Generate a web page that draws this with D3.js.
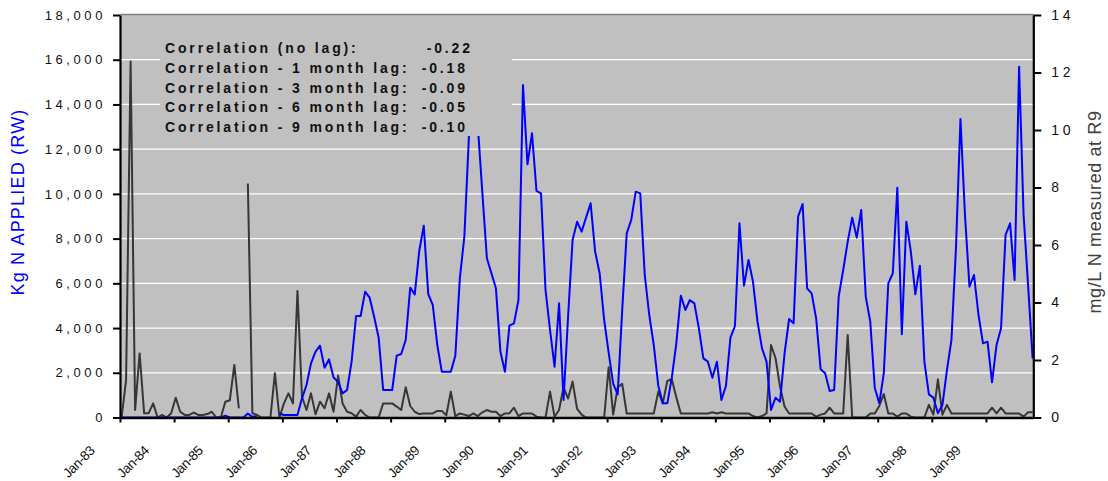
<!DOCTYPE html>
<html>
<head>
<meta charset="utf-8">
<script src="https://cdn.jsdelivr.net/npm/d3@7"></script>
<style>
  body { margin: 0; background: #fff; }
  svg { font-family: "Liberation Sans", Arial, sans-serif; }
</style>
</head>
<body>
<svg id="chart"></svg>
<script>
// monthly series, Jan-83 .. Nov-99 (one row per year)
const yearLabels = ['Jan-83', 'Jan-84', 'Jan-85', 'Jan-86', 'Jan-87', 'Jan-88', 'Jan-89', 'Jan-90',
  'Jan-91', 'Jan-92', 'Jan-93', 'Jan-94', 'Jan-95', 'Jan-96', 'Jan-97', 'Jan-98', 'Jan-99'];

// Kg N applied (RW) - left axis
const applied = [
  0, 0, 0, 0, 0, 0, 0, 0, 0, 0, 0, 0,
  0, 0, 0, 0, 0, 0, 0, 0, 0, 0, 0, 80,
  0, 0, 0, 0, 180, 30, 60, null, null, null, null, 180,
  110, 110, 110, 110, 857, 1453, 2422, 2944, 3212, 2229, 2601, 1789,
  1602, 1081, 1230, 2500, 4539, 4539, 5627, 5359, 4509, 3570, 1230, 1230,
  1230, 2765, 2840, 3466, 5806, 5508, 7446, 8580, 5520, 5031, 3242, 2050,
  2050, 2050, 2765, 6224, 8087, 12500, 16000, 13000, 10025, 7118, 6448, 5777,
  2944, 2050, 4107, 4211, 5255, 14870, 11322, 12709, 10130, 10025, 5702, 3913,
  2273, 5106, 783, 4509, 7938, 8758, 8310, 8950, 9578, 7416, 6448, 4360,
  2900, 1500, 1036, 4800, 8235, 8832, 10100, 10025, 6373, 4584, 3242, 1424,
  634, 634, 1781, 3317, 5449, 4807, 5255, 5106, 3988, 2646, 2497, 1781,
  2497, 783, 1407, 3570, 4092, 8683, 5896, 7043, 6075, 4286, 3093, 2497,
  335, 887, 708, 2870, 4405, 4211, 8981, 9548, 5777, 5553, 4435, 2154,
  1975, 1185, 1230, 5404, 6597, 7864, 8938, 8043, 9280, 5404, 4286, 1334,
  634, 1975, 6000, 6450, 10279, 3720, 8758, 7416, 5508, 6790, 2497, 1036,
  887, 186, 559, 2124, 3466, 7565, 13348, 9056, 5851, 6373, 4584, 3317,
  3391, 1573, 3242, 3988, 8161, 8683, 6149, 15690, 9056, 5900, 2646
];

// mg/L N measured at R9 - right axis
const measured = [
  0, 1.30, 12.38, 0.26, 2.23, 0.15, 0.15, 0.49, 0, 0.09, 0, 0.15,
  0.69, 0.2, 0.09, 0.09, 0.17, 0.09, 0.09, 0.12, 0.2, 0, 0, 0.55,
  0.6, 1.83, 0.32, null, 8.14, 0.15, 0.09, 0, 0, 0, 1.54, 0,
  0.49, 0.84, 0.49, 4.4, 0.72, 0.26, 0.84, 0.11, 0.55, 0.32, 0.84, 0.2,
  1.46, 0.49, 0.2, 0.15, 0.03, 0.26, 0.09, 0, 0, 0, 0.49, 0.49,
  0.49, 0.38, 0.26, 1.05, 0.4, 0.2, 0.12, 0.14, 0.14, 0.14, 0.23, 0.23,
  0.08, 0.9, 0.05, 0.14, 0.1, 0.05, 0.14, 0.05, 0.18, 0.26, 0.2, 0.2,
  0.05, 0.14, 0.15, 0.34, 0.05, 0.14, 0.14, 0.14, 0.03, 0, 0, 0.9,
  0.03, 0.26, 1.05, 0.66, 1.25, 0.3, 0.1, 0, 0, 0, 0, 0,
  1.75, 0.1, 1.05, 1.17, 0.14, 0.14, 0.14, 0.14, 0.14, 0.14, 0.14, 0.9,
  0.49, 1.27, 1.33, 0.7, 0.14, 0.14, 0.14, 0.14, 0.14, 0.14, 0.14, 0.18,
  0.14, 0.18, 0.14, 0.14, 0.14, 0.14, 0.14, 0.14, 0.05, 0, 0.05, 0.14,
  2.52, 2.06, 1.07, 0.38, 0.14, 0.14, 0.14, 0.14, 0.14, 0.14, 0.03, 0.1,
  0.14, 0.34, 0.14, 0.14, 0.14, 2.87, 0, 0, 0, 0, 0.14, 0.14,
  0.4, 0.82, 0.14, 0.14, 0.03, 0.14, 0.14, 0.03, 0, 0, 0, 0.44,
  0.1, 1.33, 0.1, 0.44, 0.14, 0.14, 0.14, 0.14, 0.14, 0.14, 0.14, 0.14,
  0.14, 0.34, 0.14, 0.34, 0.14, 0.14, 0.14, 0.14, 0.03, 0.18, 0.18
];

const corrLabels = ['Correlation (no lag):', 'Correlation - 1 month lag:', 'Correlation - 3 month lag:',
  'Correlation - 6 month lag:', 'Correlation - 9 month lag:'];
const corrValues = ['-0.22', '-0.18', '-0.09', '-0.05', '-0.10'];

const leftTicks = [0, 2000, 4000, 6000, 8000, 10000, 12000, 14000, 16000, 18000];
const rightTicks = [0, 2, 4, 6, 8, 10, 12, 14];

const W = 1108, H = 481;
const plot = { left: 120, right: 1033.3, top: 15, bottom: 417.5 };
const SAMPLE_OFFSET = 0.35; // samples sit a little after the start of each month

const svg = d3.select('#chart').attr('width', W).attr('height', H);

const x = d3.scaleLinear().domain([0, 202.5]).range([plot.left, plot.right]);
const yL = d3.scaleLinear().domain([0, 18000]).range([plot.bottom, plot.top]);
const yR = d3.scaleLinear().domain([0, 14]).range([plot.bottom, plot.top]);

// plot background
svg.append('rect')
  .attr('x', plot.left).attr('y', plot.top)
  .attr('width', plot.right - plot.left).attr('height', plot.bottom - plot.top)
  .attr('fill', '#c0c0c0');

// gridlines
svg.append('g')
  .selectAll('line')
  .data(leftTicks.filter(d => d > 0 && d < 18000))
  .enter()
  .append('line')
  .attr('x1', plot.left).attr('x2', plot.right)
  .attr('y1', d => yL(d)).attr('y2', d => yL(d))
  .attr('stroke', '#fff').attr('stroke-width', 1.2);

// top border
svg.append('line')
  .attr('x1', plot.left).attr('x2', plot.right)
  .attr('y1', plot.top - 0.5).attr('y2', plot.top - 0.5)
  .attr('stroke', '#808080').attr('stroke-width', 1.5);

// series lines
const lineL = d3.line()
  .defined(d => d != null)
  .x((d, i) => x(i + SAMPLE_OFFSET))
  .y(d => yL(d));
const lineR = d3.line()
  .defined(d => d != null)
  .x((d, i) => x(i + SAMPLE_OFFSET))
  .y(d => yR(d));

svg.append('path')
  .datum(measured)
  .attr('d', lineR)
  .attr('fill', 'none')
  .attr('stroke', '#363636')
  .attr('stroke-width', 2)
  .attr('stroke-linejoin', 'round');

svg.append('path')
  .datum(applied)
  .attr('d', lineL)
  .attr('fill', 'none')
  .attr('stroke', '#0000ff')
  .attr('stroke-width', 2)
  .attr('stroke-linejoin', 'round');

// correlation text box (opaque, hides what is behind it)
const box = svg.append('g');
box.append('rect')
  .attr('x', 160).attr('y', 32)
  .attr('width', 352).attr('height', 104)
  .attr('fill', '#c0c0c0');
box.selectAll('.corr-label')
  .data(corrLabels)
  .enter()
  .append('text')
  .attr('class', 'corr-label')
  .attr('x', 165)
  .attr('y', (d, i) => 53.3 + i * 19.6)
  .style('font-size', '14px')
  .style('font-weight', 'bold')
  .style('letter-spacing', '2.85px')
  .attr('fill', '#111')
  .text(d => d);
box.selectAll('.corr-value')
  .data(corrValues)
  .enter()
  .append('text')
  .attr('class', 'corr-value')
  .attr('x', (d, i) => (i === 0 ? 426.7 : 421.7))
  .attr('y', (d, i) => 53.3 + i * 19.6)
  .style('font-size', '14px')
  .style('font-weight', 'bold')
  .style('letter-spacing', '2.85px')
  .attr('fill', '#111')
  .text(d => d);

// left axis
const axL = svg.append('g')
  .attr('transform', `translate(${plot.left},0)`)
  .call(d3.axisLeft(yL).tickValues(leftTicks).tickSize(7).tickSizeOuter(0)
    .tickPadding(7).tickFormat(d3.format(',')));
axL.select('.domain').attr('stroke', '#000').attr('stroke-width', 2.2);
axL.selectAll('.tick line').attr('stroke', '#000').attr('stroke-width', 2);
axL.selectAll('.tick text')
  .attr('fill', '#111')
  .style('font-size', '13px')
  .style('letter-spacing', '3.6px')
  .style('font-family', '"Liberation Sans", Arial, sans-serif');

// right axis
const axR = svg.append('g')
  .attr('transform', `translate(${plot.right},0)`)
  .call(d3.axisRight(yR).tickValues(rightTicks).tickSize(8).tickSizeOuter(0).tickPadding(10));
axR.select('.domain').attr('stroke', '#000').attr('stroke-width', 2.2);
axR.selectAll('.tick line').attr('stroke', '#000').attr('stroke-width', 2);
axR.selectAll('.tick text')
  .attr('fill', '#111')
  .style('font-size', '14px')
  .style('letter-spacing', '3.6px')
  .style('font-family', '"Liberation Sans", Arial, sans-serif');

// bottom axis
const axB = svg.append('g')
  .attr('transform', `translate(0,${plot.bottom})`)
  .call(d3.axisBottom(x).tickValues(d3.range(0, 193, 12)).tickSize(5).tickSizeOuter(0)
    .tickFormat((d, i) => yearLabels[i]));
axB.select('.domain').attr('stroke', '#000').attr('stroke-width', 2.4);
axB.selectAll('.tick line').attr('stroke', '#000').attr('stroke-width', 2);
axB.selectAll('.tick text')
  .attr('x', 0).attr('y', 0).attr('dy', 0)
  .attr('transform', 'translate(-25,34) rotate(-45)')
  .style('text-anchor', 'end')
  .attr('fill', '#111')
  .style('font-size', '13.5px')
  .style('letter-spacing', '-0.5px')
  .style('font-family', '"Liberation Sans", Arial, sans-serif');

// axis titles
svg.append('text')
  .attr('transform', 'translate(24,202) rotate(-90)')
  .attr('text-anchor', 'middle')
  .attr('fill', '#0000ff')
  .style('font-size', '18px')
  .style('letter-spacing', '1.2px')
  .text('Kg N APPLIED (RW)');

svg.append('text')
  .attr('transform', 'translate(1101,212) rotate(-90)')
  .attr('text-anchor', 'middle')
  .attr('fill', '#404040')
  .style('font-size', '18px')
  .style('letter-spacing', '0.6px')
  .text('mg/L N measured at R9');
</script>
</body>
</html>
